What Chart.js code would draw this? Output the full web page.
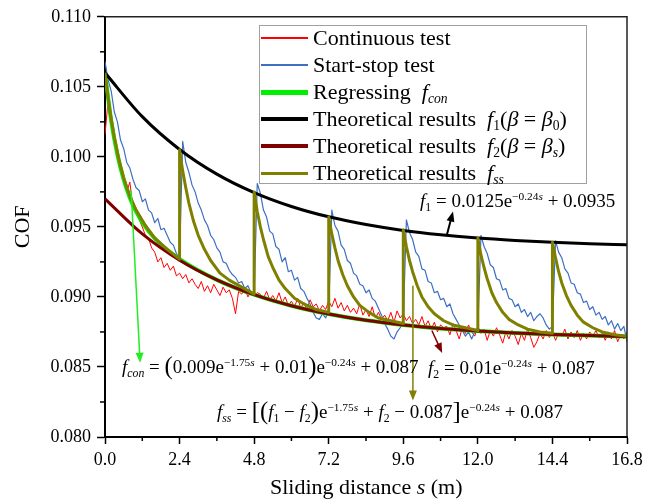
<!DOCTYPE html>
<html>
<head>
<meta charset="utf-8">
<script src="https://cdn.jsdelivr.net/npm/chart.js@4.4.1/dist/chart.umd.min.js"></script>
<style>
  body { margin: 0; background: #fff; }
  #wrap { position: relative; width: 655px; height: 504px; }
  #cofChart { position: absolute; left: 0; top: 0; }
  .ov { position: absolute; white-space: nowrap; line-height: 1; color: #000;
        font-family: "Liberation Serif", "Times New Roman", serif; }
  .ov sub { font-size: 0.62em; vertical-align: -0.3em; line-height: 0; }
  .ov sup { font-size: 0.6em; vertical-align: 0.6em; line-height: 0; }
  .bp { font-size: 1.3em; vertical-align: -0.06em; line-height: 0; }
  #legendBox { position: absolute; left: 259px; top: 25px; width: 326px; height: 157px;
               border: 1px solid #a0a0a0; background: #fff; }
  .swatch { position: absolute; left: 261px; width: 47px; }
</style>
</head>
<body>
<div id="wrap">
  <canvas id="cofChart" width="655" height="504"></canvas>
  <div id="legendBox"></div>
</div>
<script>
// sampled test traces, one value every 0.1 m from 0 to 16.8 m
const sampleStep = 0.1;
const continuousCof = [
  0.1016, 0.1040, 0.1027, 0.1011, 0.1003, 0.0990, 0.0986, 0.0975, 0.0982, 0.0964,
  0.0960, 0.0955, 0.0950, 0.0944, 0.0942, 0.0935, 0.0932, 0.0925, 0.0928, 0.0921,
  0.0924, 0.0919, 0.0922, 0.0915, 0.0917, 0.0913, 0.0916, 0.0910, 0.0913, 0.0909,
  0.0906, 0.0911, 0.0904, 0.0908, 0.0903, 0.0909, 0.0905, 0.0901, 0.0907, 0.0903,
  0.0905, 0.0899, 0.0888, 0.0904, 0.0902, 0.0906, 0.0900, 0.0904, 0.0901, 0.0903,
  0.0902, 0.0899, 0.0904, 0.0898, 0.0901, 0.0897, 0.0903, 0.0896, 0.0900, 0.0894,
  0.0897, 0.0893, 0.0899, 0.0892, 0.0896, 0.0891, 0.0898, 0.0893, 0.0895, 0.0890,
  0.0894, 0.0891, 0.0897, 0.0893, 0.0899, 0.0892, 0.0896, 0.0890, 0.0894, 0.0889,
  0.0892, 0.0888, 0.0895, 0.0887, 0.0891, 0.0886, 0.0893, 0.0885, 0.0889, 0.0884,
  0.0887, 0.0883, 0.0889, 0.0882, 0.0890, 0.0885, 0.0888, 0.0883, 0.0886, 0.0881,
  0.0884, 0.0880, 0.0886, 0.0879, 0.0883, 0.0877, 0.0882, 0.0875, 0.0880, 0.0878,
  0.0879, 0.0873, 0.0881, 0.0876, 0.0870, 0.0878, 0.0874, 0.0880, 0.0875, 0.0872,
  0.0879, 0.0874, 0.0877, 0.0869, 0.0876, 0.0872, 0.0878, 0.0873, 0.0867, 0.0875,
  0.0870, 0.0876, 0.0872, 0.0866, 0.0874, 0.0869, 0.0877, 0.0871, 0.0864, 0.0868,
  0.0874, 0.0870, 0.0876, 0.0871, 0.0875, 0.0869, 0.0874, 0.0872, 0.0877, 0.0870,
  0.0875, 0.0871, 0.0876, 0.0869, 0.0874, 0.0870, 0.0875, 0.0872, 0.0876, 0.0871,
  0.0874, 0.0869, 0.0875, 0.0870, 0.0876, 0.0868, 0.0873, 0.0870, 0.0875
];
const startStopCof = [
  0.1068, 0.1055, 0.1047, 0.1032, 0.1025, 0.1012, 0.1006, 0.0996, 0.0992, 0.0984,
  0.0978, 0.0976, 0.0968, 0.0970, 0.0962, 0.0960, 0.0953, 0.0956, 0.0948, 0.0949,
  0.0944, 0.0939, 0.0937, 0.0931, 0.0928, 0.1011, 0.0996, 0.0989, 0.0980, 0.0975,
  0.0967, 0.0962, 0.0955, 0.0951, 0.0944, 0.0941, 0.0935, 0.0932, 0.0925, 0.0924,
  0.0919, 0.0916, 0.0914, 0.0910, 0.0911, 0.0906, 0.0908, 0.0903, 0.0902, 0.0981,
  0.0974, 0.0962, 0.0957, 0.0947, 0.0945, 0.0936, 0.0934, 0.0925, 0.0928, 0.0918,
  0.0919, 0.0912, 0.0914, 0.0906, 0.0904, 0.0899, 0.0895, 0.0889, 0.0885, 0.0884,
  0.0888, 0.0885, 0.0890, 0.0962, 0.0951, 0.0947, 0.0937, 0.0934, 0.0926, 0.0924,
  0.0917, 0.0915, 0.0909, 0.0908, 0.0903, 0.0905, 0.0899, 0.0897, 0.0892, 0.0887,
  0.0881, 0.0877, 0.0872, 0.0870, 0.0875, 0.0878, 0.0883, 0.0955, 0.0946, 0.0941,
  0.0932, 0.0929, 0.0920, 0.0919, 0.0911, 0.0910, 0.0903, 0.0904, 0.0898, 0.0899,
  0.0893, 0.0895, 0.0888, 0.0884, 0.0880, 0.0876, 0.0872, 0.0875, 0.0870, 0.0875,
  0.0878, 0.0944, 0.0936, 0.0931, 0.0923, 0.0921, 0.0913, 0.0912, 0.0905, 0.0906,
  0.0899, 0.0898, 0.0893, 0.0895, 0.0889, 0.0891, 0.0886, 0.0889, 0.0883, 0.0886,
  0.0888, 0.0885, 0.0880, 0.0877, 0.0879, 0.0940, 0.0932, 0.0928, 0.0920, 0.0917,
  0.0910, 0.0909, 0.0903, 0.0902, 0.0896, 0.0897, 0.0891, 0.0893, 0.0887, 0.0889,
  0.0884, 0.0886, 0.0880, 0.0883, 0.0877, 0.0881, 0.0876, 0.0879, 0.0868
];

// theoretical curves
const theoryS = [0, 1.2, 2.4, 3.6, 4.8, 6.0, 7.2, 8.4, 9.6, 10.8, 12.0, 13.2, 14.4, 15.6, 16.8];
const f1Cof = [0.10600, 0.10287, 0.10053, 0.09877, 0.09745, 0.09646, 0.09572, 0.09517,
               0.09475, 0.09444, 0.09420, 0.09403, 0.09390, 0.09380, 0.09372];
const f2Cof = [0.09700, 0.09450, 0.09262, 0.09122, 0.09016, 0.08937, 0.08878, 0.08833,
               0.08800, 0.08775, 0.08756, 0.08742, 0.08732, 0.08724, 0.08718];
const fconS = [0, 0.2, 0.4, 0.6, 0.8, 1.0, 1.4, 1.8, 2.4, 3.6, 4.8, 6.0, 7.2, 8.4, 9.6,
               10.8, 12.0, 13.2, 14.4, 15.6, 16.8];
const fconCof = [0.10600, 0.10257, 0.10015, 0.09839, 0.09708, 0.09610, 0.09470, 0.09374,
                 0.09270, 0.09122, 0.09016, 0.08937, 0.08878, 0.08833, 0.08800, 0.08775,
                 0.08756, 0.08742, 0.08732, 0.08724, 0.08718];
const fssS = [
  0, 0.1, 0.2, 0.3, 0.45, 0.6, 0.8, 1.0, 1.3, 1.6, 2.0, 2.4,
  2.4, 2.5, 2.6, 2.7, 2.85, 3.0, 3.2, 3.4, 3.7, 4.0, 4.4, 4.8,
  4.8, 4.9, 5.0, 5.1, 5.25, 5.4, 5.6, 5.8, 6.1, 6.4, 6.8, 7.2,
  7.2, 7.3, 7.4, 7.5, 7.65, 7.8, 8.0, 8.2, 8.5, 8.8, 9.2, 9.6,
  9.6, 9.7, 9.8, 9.9, 10.05, 10.2, 10.4, 10.6, 10.9, 11.2, 11.6, 12.0,
  12.0, 12.1, 12.2, 12.3, 12.45, 12.6, 12.8, 13.0, 13.3, 13.6, 14.0, 14.4,
  14.4, 14.5, 14.6, 14.7, 14.85, 15.0, 15.2, 15.4, 15.7, 16.0, 16.4, 16.8
];
const fssCof = [
  0.1060, 0.1042, 0.1027, 0.1014, 0.0998, 0.0985, 0.0972, 0.0962, 0.0951, 0.0942, 0.0934, 0.0927,
  0.1005, 0.0990, 0.0978, 0.0967, 0.0954, 0.0944, 0.0934, 0.0926, 0.0917, 0.0912, 0.0907, 0.0902,
  0.0975, 0.0961, 0.0950, 0.0941, 0.0929, 0.0921, 0.0912, 0.0906, 0.0899, 0.0895, 0.0891, 0.0889,
  0.0957, 0.0945, 0.0935, 0.0926, 0.0916, 0.0908, 0.0900, 0.0894, 0.0889, 0.0885, 0.0883, 0.0881,
  0.0948, 0.0936, 0.0926, 0.0918, 0.0908, 0.0900, 0.0893, 0.0888, 0.0883, 0.0880, 0.0878, 0.0876,
  0.0942, 0.0930, 0.0921, 0.0913, 0.0903, 0.0896, 0.0889, 0.0884, 0.0880, 0.0877, 0.0875, 0.0874,
  0.0939, 0.0928, 0.0918, 0.0910, 0.0901, 0.0894, 0.0887, 0.0882, 0.0878, 0.0875, 0.0873, 0.0872
];

const xTicks = [0, 2.4, 4.8, 7.2, 9.6, 12.0, 14.4, 16.8];
const yTicks = [0.080, 0.085, 0.090, 0.095, 0.100, 0.105, 0.110];

const legendLabels = [
  'Continuous test',
  'Start-stop test',
  'Regressing&nbsp;&nbsp;<i>f</i><sub><i>con</i></sub>',
  'Theoretical results&nbsp;&nbsp;<i>f</i><sub>1</sub>(<i>β</i> = <i>β</i><sub>0</sub>)',
  'Theoretical results&nbsp;&nbsp;<i>f</i><sub>2</sub>(<i>β</i> = <i>β</i><sub><i>s</i></sub>)',
  'Theoretical results&nbsp;&nbsp;<i>f</i><sub><i>ss</i></sub>'
];

// formulas written on the plot: [html, left px, top px]
const formulaNotes = [
  ['<i>f</i><sub>1</sub> = 0.0125e<sup>−0.24<i>s</i></sup> + 0.0935', 420, 191],
  ['<i>f</i><sub><i>con</i></sub> = <span class="bp">(</span>0.009e<sup>−1.75<i>s</i></sup> + 0.01<span class="bp">)</span>e<sup>−0.24<i>s</i></sup> + 0.087', 122, 357],
  ['<i>f</i><sub>2</sub> = 0.01e<sup>−0.24<i>s</i></sup> + 0.087', 428, 358],
  ['<i>f</i><sub><i>ss</i></sub> = <span class="bp">[</span><span class="bp">(</span><i>f</i><sub>1</sub> − <i>f</i><sub>2</sub><span class="bp">)</span>e<sup>−1.75<i>s</i></sup> + <i>f</i><sub>2</sub> − 0.087<span class="bp">]</span>e<sup>−0.24<i>s</i></sup> + 0.087', 217, 402]
];

// arrows from each formula to its curve, in data units [s, COF]
const arrowNotes = [
  { from: [11.0, 0.0944], to: [11.2, 0.0961], color: '#000000', width: 2 },
  { from: [0.84, 0.0976], to: [1.13, 0.0853], color: '#22ee22', width: 1.5 },
  { from: [10.52, 0.0876], to: [10.85, 0.0860], color: '#800000', width: 1.5 },
  { from: [9.91, 0.0908], to: [9.91, 0.0826], color: '#808000', width: 1.5 }
];

const serif = "'Liberation Serif', 'Times New Roman', serif";

function sampled(values) {
  return values.map((v, i) => ({ x: Math.round(i * sampleStep * 10) / 10, y: v }));
}
function paired(xs, ys) {
  return ys.map((v, i) => ({ x: xs[i], y: v }));
}

function drawArrow(ctx, x1, y1, x2, y2, color, w) {
  const head = 10;
  const ang = Math.atan2(y2 - y1, x2 - x1);
  const c = Math.cos(ang), s = Math.sin(ang);
  ctx.strokeStyle = color;
  ctx.fillStyle = color;
  ctx.lineWidth = w;
  ctx.beginPath();
  ctx.moveTo(x1, y1);
  ctx.lineTo(x2 - c * head * 0.8, y2 - s * head * 0.8);
  ctx.stroke();
  ctx.beginPath();
  ctx.moveTo(x2, y2);
  ctx.lineTo(x2 - head * c + head * 0.4 * s, y2 - head * s - head * 0.4 * c);
  ctx.lineTo(x2 - head * c - head * 0.4 * s, y2 - head * s + head * 0.4 * c);
  ctx.closePath();
  ctx.fill();
}

const framePlugin = {
  id: 'frame',
  afterDatasetsDraw(chart) {
    const { ctx, chartArea: a, scales: { x, y } } = chart;
    ctx.save();
    ctx.strokeStyle = '#222';
    ctx.lineWidth = 1.5;
    ctx.beginPath();
    ctx.moveTo(a.left, a.top);
    ctx.lineTo(a.right, a.top);
    ctx.lineTo(a.right, a.bottom);
    ctx.stroke();

    // minor ticks halfway between the labelled ones
    ctx.strokeStyle = '#000';
    for (let i = 0; i < xTicks.length - 1; i++) {
      const px = x.getPixelForValue((xTicks[i] + xTicks[i + 1]) / 2);
      ctx.beginPath();
      ctx.moveTo(px, a.bottom);
      ctx.lineTo(px, a.bottom + 4);
      ctx.stroke();
    }
    for (let i = 0; i < yTicks.length - 1; i++) {
      const py = y.getPixelForValue((yTicks[i] + yTicks[i + 1]) / 2);
      ctx.beginPath();
      ctx.moveTo(a.left, py);
      ctx.lineTo(a.left - 5, py);
      ctx.stroke();
    }

    arrowNotes.forEach(n => {
      drawArrow(ctx,
        x.getPixelForValue(n.from[0]), y.getPixelForValue(n.from[1]),
        x.getPixelForValue(n.to[0]), y.getPixelForValue(n.to[1]),
        n.color, n.width);
    });
    ctx.restore();
  }
};

const common = { pointRadius: 0, fill: false, tension: 0, borderJoinStyle: 'round' };

const chart = new Chart(document.getElementById('cofChart'), {
  type: 'line',
  data: {
    datasets: [
      { ...common, label: 'Continuous test', data: sampled(continuousCof),
        borderColor: '#ff0000', borderWidth: 1, order: 6 },
      { ...common, label: 'Start-stop test', data: sampled(startStopCof),
        borderColor: '#3d6fc4', borderWidth: 1.2, order: 5 },
      { ...common, label: 'Regressing fcon', data: paired(fconS, fconCof),
        borderColor: '#00ee00', borderWidth: 4, cubicInterpolationMode: 'monotone', order: 4 },
      { ...common, label: 'Theoretical results f1', data: paired(theoryS, f1Cof),
        borderColor: '#000000', borderWidth: 3, cubicInterpolationMode: 'monotone', order: 3 },
      { ...common, label: 'Theoretical results f2', data: paired(theoryS, f2Cof),
        borderColor: '#800000', borderWidth: 3, cubicInterpolationMode: 'monotone', order: 2 },
      { ...common, label: 'Theoretical results fss', data: paired(fssS, fssCof),
        borderColor: '#808000', borderWidth: 3, order: 1 }
    ]
  },
  options: {
    responsive: false,
    animation: false,
    events: [],
    layout: { padding: { top: 15, right: 28, left: 0, bottom: 0 } },
    plugins: { legend: { display: false }, tooltip: { enabled: false } },
    scales: {
      x: {
        type: 'linear', min: 0, max: 16.8,
        afterBuildTicks: s => { s.ticks = xTicks.map(v => ({ value: v })); },
        afterFit: s => { s.height = 67; },
        grid: { drawOnChartArea: false, tickLength: 7, tickWidth: 1.5, tickColor: '#000' },
        border: { color: '#000', width: 2 },
        ticks: { color: '#000', font: { family: serif, size: 18 }, padding: 5, maxRotation: 0,
                 callback: v => v.toFixed(1) }
      },
      y: {
        min: 0.08, max: 0.11,
        afterBuildTicks: s => { s.ticks = yTicks.map(v => ({ value: v })); },
        afterFit: s => { s.width = 105; },
        grid: { drawOnChartArea: false, tickLength: 8, tickWidth: 1.5, tickColor: '#000' },
        border: { color: '#000', width: 2 },
        ticks: { color: '#000', font: { family: serif, size: 18 }, padding: 6,
                 callback: v => v.toFixed(3) },
        title: { display: true, text: 'COF', color: '#000', font: { family: serif, size: 22 },
                 padding: { top: 10, bottom: 0 } }
      }
    }
  },
  plugins: [framePlugin]
});

// overlays: legend, formulas, x title
const wrap = document.getElementById('wrap');
function addText(html, left, top, size) {
  const d = document.createElement('div');
  d.className = 'ov';
  d.style.left = left + 'px';
  d.style.top = top + 'px';
  d.style.fontSize = size + 'px';
  d.innerHTML = html;
  wrap.appendChild(d);
  return d;
}
const swatchWidths = [2, 2, 5, 4, 4, 3];
chart.data.datasets.forEach((ds, i) => {
  const cy = Math.round(37.5 + i * 27.1);
  const sw = document.createElement('div');
  sw.className = 'swatch';
  sw.style.top = Math.round(cy - swatchWidths[i] / 2) + 'px';
  sw.style.height = swatchWidths[i] + 'px';
  sw.style.backgroundColor = ds.borderColor;
  wrap.appendChild(sw);
  addText(legendLabels[i], 313, cy - 11, 22);
});
formulaNotes.forEach(f => addText(f[0], f[1], f[2], 19));
const xTitle = addText('Sliding distance <i>s</i> (m)', 0, 476, 22);
xTitle.style.left = (366 - xTitle.offsetWidth / 2) + 'px';
</script>
</body>
</html>
